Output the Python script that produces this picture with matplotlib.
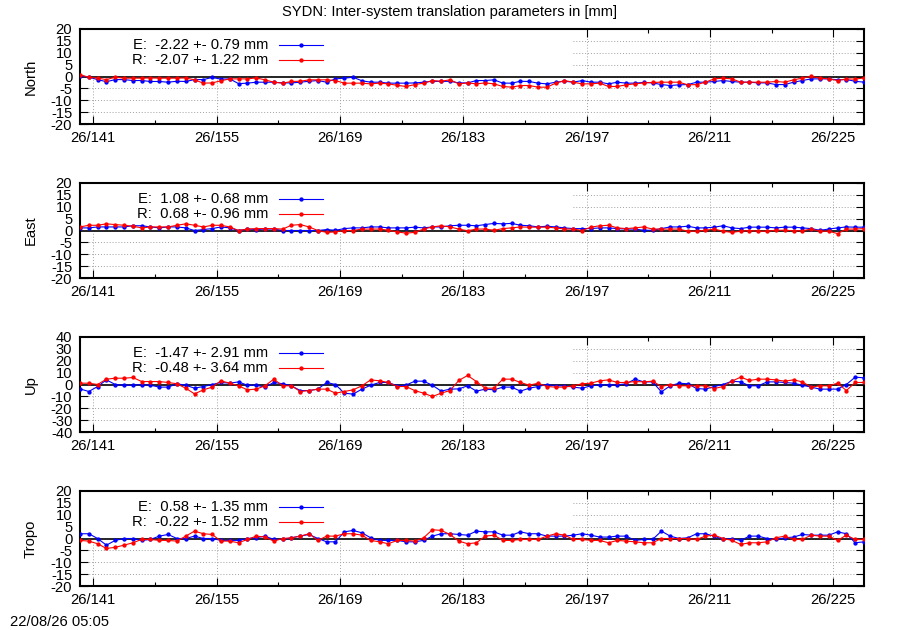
import numpy as np
import matplotlib
matplotlib.use('Agg')
from matplotlib import pyplot as plt
from matplotlib.patches import Rectangle

plt.rcParams['font.family'] = ['Liberation Sans', 'DejaVu Sans']
plt.rcParams['font.size'] = 10.6

# day of year (2026), one solution per day at noon
days = np.arange(139.5, 229.5, 1.0)

north_e = [0.4, -0.3, -1.3, -2.2, -1.3, -1.3, -1.7, -1.7, -2.1, -2.1,
           -2.4, -2.0, -2.1, -1.3, -1.3, -0.4, -1.1, -1.0, -3.0, -2.8,
           -2.4, -2.4, -2.4, -2.7, -2.7, -2.4, -2.0, -1.7, -2.4, -1.0,
           -0.7, -0.3, -1.8, -2.4, -2.4, -2.8, -2.8, -2.8, -2.7, -2.4,
           -2.0, -2.1, -2.0, -2.7, -2.7,
           -1.7, -1.7, -1.4, -2.8, -2.8, -2.0, -2.1, -2.8, -3.1, -2.4,
           -2.0, -2.4, -1.7, -2.4, -2.4, -3.1, -2.4, -2.8, -2.8, -2.5,
           -2.7, -3.4, -3.8, -3.5, -3.4, -2.4, -2.4, -2.1, -1.7, -2.1,
           -2.4, -2.4, -2.7, -2.7, -3.4, -3.4, -2.4, -1.7, -1.0, -1.0,
           -1.0, -1.4, -1.3, -2.0, -2.4]
north_r = [0.7, -0.3, -0.7, -1.3, -0.3, -0.7, -0.7, -0.7, -0.6, -0.7,
           -0.7, -0.7, -0.6, -1.4, -2.8, -2.7, -1.8, -1.0, -1.0, -1.0,
           -0.6, -1.4, -2.4, -2.8, -2.1, -2.0, -1.4, -1.4, -1.4, -1.7,
           -2.8, -2.8, -2.8, -3.1, -2.8, -3.1, -3.7, -4.2, -3.4, -2.8,
           -1.7, -2.0, -1.4, -3.1, -2.7,
           -3.1, -2.7, -3.1, -4.2, -4.5, -3.8, -3.8, -4.5, -4.5, -2.8,
           -1.7, -2.4, -3.1, -3.1, -2.8, -4.2, -4.2, -3.5, -3.1, -2.7,
           -2.5, -2.4, -2.4, -2.4, -3.5, -3.4, -2.4, -1.0, -0.7, -1.0,
           -2.4, -2.4, -2.4, -2.4, -2.1, -2.4, -1.4, -0.7, 0.1, -0.7,
           -1.0, -1.7, -1.0, -1.1, -0.6]

east_e = [1.1, 1.1, 1.5, 1.5, 1.5, 1.5, 2.0, 2.0, 1.5, 1.1,
          1.5, 1.5, 1.1, 0.0, 0.4, 0.8, 1.5, 1.1, 0.0, 0.6,
          0.4, 0.6, 0.6, 0.0, 0.0, 0.0, 0.0, 0.0, 0.4, 0.1,
          0.8, 1.1, 1.1, 1.5, 1.5, 1.1, 1.1, 1.1, 1.4, 1.1,
          1.5, 1.5, 2.0, 2.2, 2.2,
          2.0, 2.5, 3.0, 2.8, 3.0, 2.2, 2.0, 1.5, 1.8, 1.5,
          1.1, 0.8, 0.8, 0.8, 1.1, 1.1, 0.8, 0.6, 0.6, 0.1,
          0.1, 0.8, 1.5, 1.5, 1.8, 1.1, 1.1, 1.4, 2.0, 1.1,
          0.8, 1.4, 1.4, 1.4, 1.1, 1.4, 1.4, 1.1, 0.8, 0.1,
          0.6, 1.1, 1.5, 1.4, 1.4]
east_r = [1.5, 2.2, 2.2, 2.8, 2.5, 2.2, 1.8, 1.1, 1.5, 1.5,
          1.5, 2.2, 2.8, 2.2, 1.5, 2.2, 2.2, 1.5, 0.0, 0.6,
          0.8, 0.8, 0.8, 0.6, 2.2, 2.5, 1.5, 0.0, -0.8, -0.6,
          0.0, 0.0, 0.6, 0.6, 0.6, 0.1, -0.6, -1.1, -0.8, 0.6,
          1.5, 2.0, 1.5, 0.6, -0.1,
          0.6, 0.6, 0.1, 0.8, 1.1, 1.5, 1.4, 1.4, 1.4, 1.1,
          0.6, 0.6, 0.0, 1.4, 2.0, 2.2, 1.1, 0.8, 1.1, 1.5,
          0.6, 0.6, 0.6, 0.6, -0.3, -0.3, 0.1, 0.6, -0.3, -0.8,
          -0.3, 0.0, -0.3, -0.3, 0.1, 0.1, -0.1, -0.1, 0.6, -0.3,
          -0.3, -1.3, 0.6, 0.6, 0.8]

up_e = [-3.7, -5.9, -1.7, 3.9, 0.0, -0.6, -0.6, 0.0, -0.6, -2.2,
        -2.2, 0.6, -0.6, -3.1, -1.7, 0.0, 1.7, 1.1, 2.2, -0.6,
        -0.6, -2.2, 1.7, 0.6, -1.1, -5.1, -5.1, -3.9, 1.7, 0.0,
        -7.3, -8.1, -3.9, -0.6, 1.7, 1.7, -1.1, -0.6, 2.8, 2.8,
        -0.6, -5.6, -3.9, -3.7, -1.1,
        -5.6, -3.9, -4.5, -2.2, -2.2, -5.6, -3.1, -1.7, 0.0, -1.1,
        -1.1, -2.2, -3.1, -1.1, -0.3, -0.3, -0.3, 0.6, 4.5, 2.2,
        2.2, -6.2, -1.1, 1.1, 0.6, -3.4, -3.9, -1.7, 0.0, 2.8,
        2.2, -1.1, -1.1, 2.2, 2.2, 1.7, 1.1, -0.6, -2.2, -3.9,
        -3.9, -3.9, 0.0, 6.2, 5.6]
up_r = [1.1, 1.1, 0.0, 4.5, 5.3, 5.3, 5.9, 2.5, 2.5, 2.5,
        1.7, 0.6, -3.1, -7.9, -4.5, -2.2, 3.1, 1.1, -1.1, -4.5,
        -3.9, -1.1, 4.5, -1.1, -1.1, -5.9, -5.1, -3.9, -3.9, -7.3,
        -5.9, -4.5, -1.1, 3.9, 3.1, 1.7, -1.7, -1.7, -5.1, -7.3,
        -10.1, -7.3, -5.1, 3.4, 7.6,
        2.5, -3.1, -3.1, 4.5, 4.5, 1.7, -0.6, 1.1, -1.7, -2.2,
        -2.2, -1.1, 0.6, 1.1, 3.1, 3.9, 1.7, 1.7, 2.5, 2.2,
        2.8, -1.7, 0.0, -1.1, -1.1, -1.1, -1.1, -3.4, -1.7, 2.8,
        6.2, 3.4, 4.5, 4.5, 3.9, 2.8, 3.9, 2.2, -2.2, -1.1,
        -1.1, 1.1, -5.1, 1.7, 1.7]

tropo_e = [2.0, 2.0, 0.0, -2.8, -0.8, 0.0, 0.0, -0.8, -0.4, 1.0,
           1.7, 0.0, 0.0, 1.0, 0.0, 0.0, -0.8, -0.8, -0.8, 0.0,
           0.3, 1.0, -0.4, -0.4, 0.3, 1.0, 1.7, 0.0, -1.4, -1.4,
           2.8, 3.4, 2.4, 0.3, -0.8, -0.8, -0.8, -1.4, -1.4, -0.8,
           1.0, 2.0, 2.0, 1.7, 1.4,
           3.1, 2.8, 2.8, 1.4, 1.4, 2.8, 2.0, 2.0, 1.0, 1.0,
           1.0, 1.4, 2.0, 1.4, 0.6, 0.6, 1.0, 1.0, -0.8, -0.4,
           -0.4, 3.1, 1.0, 0.0, 0.3, 2.0, 2.0, 1.0, -0.4, 0.0,
           -0.8, 1.0, 1.0, 0.0, -0.4, 0.3, 0.6, 1.7, 1.4, 1.4,
           1.4, 2.8, 2.0, -1.8, -1.4]
tropo_r = [-0.8, -1.1, -2.2, -4.2, -3.7, -2.8, -1.8, -0.4, -0.4, -0.8,
           -0.8, -1.1, 1.0, 3.1, 2.0, 1.7, -1.1, -1.1, -1.8, -0.4,
           1.0, 0.6, -1.1, 0.0, 0.3, 1.0, 2.0, -0.8, 1.0, 1.0,
           2.0, 2.0, 1.4, -0.8, -1.4, -2.2, -0.8, -0.8, -1.1, 0.3,
           3.7, 3.4, 1.7, -1.1, -2.2,
           -1.8, 1.0, 1.4, -0.8, -0.8, -0.4, -0.4, -0.4, 1.0, 2.0,
           1.4, -0.4, -0.4, -0.8, -0.8, -1.8, -0.8, -1.1, -1.4, -1.8,
           -1.8, 0.0, 0.0, 0.0, 0.0, -0.4, 1.0, 1.4, 0.0, -0.8,
           -2.5, -1.8, -1.8, -1.4, 0.3, 1.0, -0.4, -0.4, 1.4, 1.0,
           1.0, -0.8, 1.4, -0.4, -0.4]

panel_names = ['North', 'East', 'Up', 'Tropo']
legend_e = ['E:  -2.22 +- 0.79 mm', 'E:  1.08 +- 0.68 mm',
            'E:  -1.47 +- 2.91 mm', 'E:  0.58 +- 1.35 mm']
legend_r = ['R:  -2.07 +- 1.22 mm', 'R:  0.68 +- 0.96 mm',
            'R:  -0.48 +- 3.64 mm', 'R:  -0.22 +- 1.52 mm']
series_e = [north_e, east_e, up_e, tropo_e]
series_r = [north_r, east_r, up_r, tropo_r]
y_limits = [20, 20, 40, 20]
major_days = list(range(141, 229, 14))
minor_days = list(range(148, 229, 14))

W, H = 900, 630
fig = plt.figure(figsize=(W / 100, H / 100), dpi=100)

frame_bottoms = [124, 278, 432, 586]
for k, name in enumerate(panel_names):
    ax = fig.add_axes([80 / W, 1 - frame_bottoms[k] / H, 784 / W, 95 / H])
    lim = y_limits[k]
    step = lim / 4

    ax.set_axisbelow(True)
    ax.grid(True, which='major', color='#a0a0a0', linestyle=(0, (1, 2)), linewidth=0.7)
    # opaque key box hides the grid under the legend
    ax.add_patch(Rectangle((0, 0.47), 0.629, 0.53, transform=ax.transAxes,
                           facecolor='white', edgecolor='none', zorder=1))
    ax.axhline(0, color='black', linewidth=1.2, zorder=2)

    ax.plot(days, series_e[k], color='#0000ff', linewidth=0.8, marker='o',
            markersize=2.1, zorder=3)
    ax.plot(days, series_r[k], color='#ff0000', linewidth=0.8, marker='o',
            markersize=2.1, zorder=4)

    # key
    for row, (txt, col) in enumerate([(legend_e[k], '#0000ff'), (legend_r[k], '#ff0000')]):
        yk = 0.832 - row * 0.158
        ax.text(0.240, yk, txt, transform=ax.transAxes, ha='right', va='center', zorder=5)
        ax.plot([0.254, 0.310], [yk, yk], transform=ax.transAxes, color=col,
                linewidth=0.8, zorder=5)
        ax.plot([0.282], [yk], transform=ax.transAxes, color=col, marker='o',
                markersize=2.1, zorder=5)

    ax.set_xlim(days[0], days[-1])
    ax.set_ylim(-lim, lim)
    ax.set_yticks(np.arange(-lim, lim + step / 2, step))
    ax.set_yticklabels([f'{v:g}' for v in np.arange(-lim, lim + step / 2, step)])
    ax.set_xticks(major_days)
    ax.set_xticklabels([f'26/{d}' for d in major_days])
    ax.set_xticks(minor_days, minor=True)
    ax.tick_params(which='both', direction='in', top=True, right=True)
    ax.tick_params(which='major', length=5.8, width=0.8, pad=5.5)
    ax.tick_params(which='minor', length=3, width=0.8)
    ax.tick_params(axis='x', which='major', pad=5)
    for sp in ax.spines.values():
        sp.set_linewidth(1.5)
    ax.set_ylabel(name)
    ax.yaxis.set_label_coords(-0.054, 0.5)

fig.text(0.5, 1 - 12 / H, 'SYDN: Inter-system translation parameters in [mm]',
         ha='center', va='center')
fig.text(10 / W, 1 - 622 / H, '22/08/26 05:05', ha='left', va='center')

plt.savefig('out.png', dpi=100)
